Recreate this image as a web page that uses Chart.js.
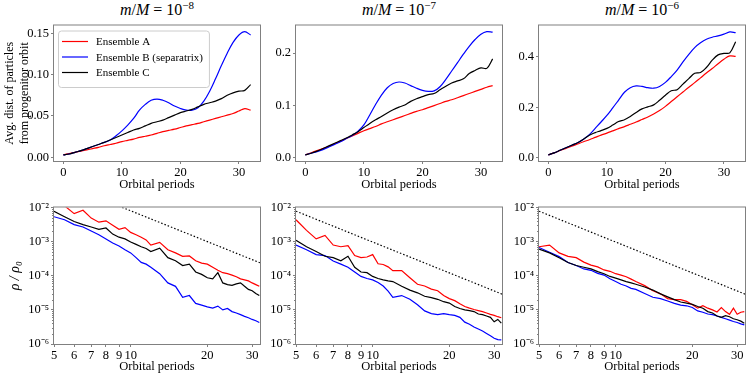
<!DOCTYPE html>
<html>
<head>
<meta charset="utf-8">
<script src="https://cdn.jsdelivr.net/npm/chart.js@4.4.1/dist/chart.umd.min.js"></script>
<style>
  body { margin: 0; background: #fff; width: 747px; height: 374px; position: relative; overflow: hidden;
         font-family: "Liberation Serif", "Times New Roman", serif; }
  canvas { position: absolute; }
  .ttl { position: absolute; top: 0px; width: 206px; text-align: center; font-size: 16px; line-height: 19px; }
  .ttl .sup { font-size: 11px; position: relative; top: -6px; }
</style>
</head>
<body>
<div class="ttl" style="left:54px"><i>m</i>/<i>M</i> = 10<span class="sup">−8</span></div>
<div class="ttl" style="left:296px"><i>m</i>/<i>M</i> = 10<span class="sup">−7</span></div>
<div class="ttl" style="left:539px"><i>m</i>/<i>M</i> = 10<span class="sup">−6</span></div>

<canvas id="t8" width="263" height="176" style="left:0px;top:16px"></canvas>
<canvas id="t7" width="249" height="176" style="left:256px;top:16px"></canvas>
<canvas id="t6" width="249" height="176" style="left:499px;top:16px"></canvas>
<canvas id="b8" width="263" height="176" style="left:0px;top:198px"></canvas>
<canvas id="b7" width="249" height="176" style="left:256px;top:198px"></canvas>
<canvas id="b6" width="249" height="176" style="left:499px;top:198px"></canvas>

<script>
// ---- data ----
const seriesNames = ['Ensemble A', 'Ensemble B (separatrix)', 'Ensemble C'];

// top row: avg. distance from progenitor orbit vs orbital periods
const tTop = [0,1,2,3,4,5,6,7,8,9,10,11,12,13,14,15,16,17,18,19,20,21,22,23,24,25,26,27,28,29,30,31,32];

const topA8 = [0.003,0.0045,0.006,0.0075,0.009,0.0105,0.012,0.014,0.0155,0.017,0.019,0.0205,0.022,0.024,0.0255,0.027,0.029,0.031,0.0325,0.034,0.036,0.038,0.0395,0.041,0.043,0.045,0.047,0.049,0.051,0.053,0.056,0.059,0.057];
const topB8 = [0.003,0.004,0.006,0.008,0.0105,0.013,0.0155,0.018,0.021,0.026,0.032,0.039,0.047,0.057,0.064,0.069,0.0705,0.069,0.066,0.062,0.059,0.057,0.057,0.060,0.068,0.080,0.095,0.111,0.126,0.139,0.148,0.152,0.148];
const topC8 = [0.003,0.004,0.006,0.008,0.0105,0.013,0.0155,0.018,0.021,0.024,0.027,0.030,0.033,0.035,0.038,0.041,0.043,0.045,0.048,0.051,0.054,0.056,0.058,0.061,0.064,0.066,0.068,0.071,0.075,0.078,0.080,0.081,0.088];

const topA7 = [0.006,0.010,0.014,0.018,0.022,0.027,0.032,0.037,0.042,0.047,0.052,0.056,0.060,0.065,0.069,0.073,0.077,0.081,0.085,0.089,0.092,0.096,0.100,0.104,0.108,0.111,0.115,0.119,0.123,0.127,0.131,0.135,0.138];
const topB7 = [0.006,0.009,0.012,0.016,0.021,0.026,0.031,0.037,0.043,0.051,0.063,0.082,0.102,0.120,0.134,0.142,0.145,0.143,0.138,0.133,0.129,0.127,0.128,0.136,0.150,0.166,0.182,0.198,0.213,0.226,0.236,0.241,0.240];
const topC7 = [0.006,0.009,0.013,0.018,0.023,0.028,0.033,0.038,0.044,0.050,0.058,0.066,0.073,0.079,0.086,0.092,0.097,0.101,0.108,0.113,0.117,0.121,0.123,0.130,0.137,0.143,0.147,0.151,0.161,0.167,0.172,0.171,0.189];

const topA6 = [0.012,0.020,0.029,0.037,0.046,0.055,0.064,0.072,0.081,0.090,0.098,0.107,0.116,0.124,0.133,0.142,0.152,0.162,0.174,0.188,0.204,0.223,0.242,0.261,0.280,0.298,0.317,0.336,0.354,0.373,0.391,0.404,0.402];
const topB6 = [0.012,0.020,0.030,0.040,0.050,0.060,0.074,0.092,0.117,0.142,0.168,0.198,0.229,0.260,0.278,0.285,0.283,0.278,0.276,0.283,0.299,0.322,0.348,0.380,0.410,0.437,0.456,0.470,0.478,0.483,0.490,0.499,0.496];
const topC6 = [0.012,0.020,0.030,0.040,0.050,0.060,0.074,0.090,0.100,0.108,0.117,0.130,0.144,0.151,0.164,0.180,0.194,0.202,0.210,0.228,0.248,0.266,0.270,0.292,0.314,0.335,0.338,0.358,0.387,0.408,0.414,0.416,0.460];

// bottom row: density rho/rho0, stored as log10 values
const tBot = [5,5.5,6,6.5,7,7.5,8,8.5,9,9.5,10,10.5,11,11.5,12,13,14,15,16,17,18,19,20,21,22,23,24,25,26,27,28,29,30,31,32];

const rhoA8 = [-1.80,-1.95,-2.18,-2.08,-2.31,-2.43,-2.39,-2.52,-2.64,-2.59,-2.73,-2.80,-2.87,-2.95,-3.10,-3.02,-3.24,-3.33,-3.43,-3.42,-3.56,-3.63,-3.66,-3.75,-3.84,-3.91,-3.94,-3.98,-4.03,-4.09,-4.12,-4.15,-4.21,-4.26,-4.31];
const rhoB8 = [-2.27,-2.36,-2.50,-2.57,-2.69,-2.80,-2.92,-3.04,-3.13,-3.24,-3.33,-3.47,-3.61,-3.66,-3.75,-3.94,-4.21,-4.31,-4.63,-4.58,-4.81,-4.86,-4.91,-4.95,-4.89,-5.00,-4.96,-5.05,-5.09,-5.14,-5.19,-5.23,-5.28,-5.32,-5.37];
const rhoC8 = [-2.11,-2.27,-2.41,-2.50,-2.57,-2.64,-2.60,-2.78,-2.87,-2.92,-3.01,-3.08,-3.15,-3.20,-3.29,-3.19,-3.47,-3.56,-3.70,-3.66,-3.89,-3.96,-4.06,-4.09,-3.91,-4.21,-4.26,-4.28,-4.24,-4.21,-4.31,-4.40,-4.44,-4.52,-4.58];

const rhoA7 = [-2.36,-2.67,-2.92,-2.82,-3.10,-3.15,-3.12,-3.41,-3.47,-3.45,-3.38,-3.65,-3.67,-3.74,-3.85,-3.85,-4.06,-4.25,-4.30,-4.39,-4.44,-4.58,-4.67,-4.73,-4.82,-4.90,-4.95,-4.99,-5.02,-5.05,-5.09,-5.13,-5.16,-5.20,-5.23];
const rhoB7 = [-3.10,-3.24,-3.38,-3.41,-3.57,-3.66,-3.75,-3.89,-4.02,-4.08,-4.12,-4.20,-4.30,-4.45,-4.63,-4.58,-4.69,-4.85,-5.03,-5.11,-5.14,-5.11,-5.14,-5.16,-5.22,-5.36,-5.42,-5.50,-5.56,-5.62,-5.69,-5.76,-5.83,-5.87,-5.88];
const rhoC7 = [-2.96,-3.15,-3.29,-3.43,-3.47,-3.56,-3.43,-3.75,-3.89,-3.91,-4.02,-4.08,-4.12,-4.15,-4.17,-4.31,-4.42,-4.50,-4.60,-4.64,-4.69,-4.76,-4.80,-4.90,-4.96,-5.00,-5.02,-5.05,-5.12,-5.14,-5.18,-5.22,-5.35,-5.28,-5.39];

const rhoA6 = [-3.15,-3.10,-3.33,-3.43,-3.47,-3.60,-3.69,-3.74,-3.83,-3.87,-3.94,-3.98,-4.03,-4.10,-4.17,-4.29,-4.44,-4.53,-4.67,-4.70,-4.70,-4.75,-4.85,-4.95,-4.88,-4.95,-5.00,-5.06,-4.93,-5.05,-5.13,-4.95,-5.13,-5.07,-5.05];
const rhoB6 = [-3.17,-3.31,-3.44,-3.61,-3.70,-3.80,-3.84,-3.93,-3.98,-4.09,-4.17,-4.25,-4.30,-4.37,-4.40,-4.52,-4.63,-4.67,-4.74,-4.81,-4.86,-4.88,-4.93,-5.03,-5.07,-5.12,-5.14,-5.18,-5.22,-5.26,-5.30,-5.34,-5.37,-5.41,-5.44];
const rhoC6 = [-3.22,-3.33,-3.47,-3.61,-3.70,-3.75,-3.80,-3.88,-3.94,-4.02,-4.07,-4.12,-4.17,-4.21,-4.25,-4.33,-4.42,-4.53,-4.62,-4.70,-4.77,-4.80,-4.84,-4.90,-4.95,-5.05,-5.09,-5.18,-5.22,-5.17,-5.20,-5.26,-5.29,-5.33,-5.39];

// dotted power-law guide (end points)
const guideT = [5, 32.2];
const guide8 = [6.4e-2, 2.4e-4];
const guide7 = [7.8e-3, 2.9e-5];
const guide6 = [7.8e-3, 2.9e-5];

// ticks
const topXTicks = [0, 10, 20, 30];
const yTicks8 = [0, 0.05, 0.10, 0.15];
const yLabels8 = ['0.00', '0.05', '0.10', '0.15'];
const yTicks7 = [0, 0.1, 0.2];
const yLabels7 = ['0.0', '0.1', '0.2'];
const yTicks6 = [0, 0.2, 0.4];
const yLabels6 = ['0.0', '0.2', '0.4'];
const botXTicks = [5, 6, 7, 8, 9, 10, 20, 30];
const logYTicks = [1e-6, 1e-5, 1e-4, 1e-3, 1e-2];
const logYLabels = ['10⁻⁶', '10⁻⁵', '10⁻⁴', '10⁻³', '10⁻²'];

// ---- drawing ----
Chart.defaults.font.family = '"Liberation Serif", "Times New Roman", serif';
Chart.defaults.color = '#000';

const FRAME = '#808080';
const COLORS = ['rgb(255,0,0)', 'rgb(0,0,255)', '#000'];

const framePlugin = {
  id: 'frame',
  afterDatasetsDraw(chart) {
    const { ctx, chartArea: a } = chart;
    ctx.save();
    ctx.strokeStyle = FRAME;
    ctx.lineWidth = 1;
    ctx.strokeRect(a.left - 0.5, a.top - 0.5, a.right - a.left + 1, a.bottom - a.top + 1);
    const y = chart.scales.y;
    if (y.type === 'logarithmic') {
      // minor ticks 2..9 x 10^n
      ctx.beginPath();
      for (let n = -6; n < -2; n++) {
        for (let k = 2; k <= 9; k++) {
          const py = Math.round(y.getPixelForValue(k * Math.pow(10, n))) + 0.5;
          ctx.moveTo(a.left - 2, py);
          ctx.lineTo(a.left, py);
        }
      }
      ctx.stroke();
    }
    ctx.restore();
  }
};

const legendPlugin = {
  id: 'boxLegend',
  afterDraw(chart) {
    const { ctx, chartArea: a } = chart;
    const items = chart.data.datasets.filter(d => d.label);
    ctx.save();
    ctx.font = '11px "Liberation Serif", serif';
    const tw = Math.max(...items.map(d => ctx.measureText(d.label).width));
    const x0 = a.left + 4, y0 = a.top + 5, rowH = 15.5;
    const w = 38 + tw + 6, h = items.length * rowH + 10;
    ctx.fillStyle = 'rgba(255,255,255,0.8)';
    ctx.strokeStyle = '#cccccc';
    ctx.lineWidth = 1;
    ctx.beginPath();
    ctx.roundRect(x0 + 0.5, y0 + 0.5, w, h, 3);
    ctx.fill();
    ctx.stroke();
    items.forEach((d, i) => {
      const y = y0 + 11 + i * rowH;
      ctx.strokeStyle = d.borderColor;
      ctx.lineWidth = d.borderWidth;
      ctx.beginPath();
      ctx.moveTo(x0 + 4, y);
      ctx.lineTo(x0 + 30, y);
      ctx.stroke();
      ctx.fillStyle = '#000';
      ctx.textBaseline = 'middle';
      ctx.fillText(d.label, x0 + 38, y + 1);
    });
    ctx.restore();
  }
};

function pts(xs, ys) {
  return xs.map((x, i) => ({ x: x, y: ys[i] }));
}
function logPts(xs, ys) {
  return xs.map((x, i) => ({ x: x, y: Math.pow(10, ys[i]) }));
}

function makePanel(id, cfg) {
  const datasets = cfg.series.map((data, i) => ({
    label: seriesNames[i],
    data: data,
    borderColor: COLORS[i],
    borderWidth: 1.2,
    pointRadius: 0,
    tension: cfg.log ? 0 : 0.35,
    order: 3 - i
  }));
  if (cfg.guide) {
    datasets.push({
      data: cfg.guide,
      borderColor: '#000',
      borderWidth: 1.2,
      borderDash: [1.5, 2],
      pointRadius: 0,
      order: 0
    });
  }
  const tickGrid = { drawOnChartArea: false, drawTicks: true, tickLength: 3, color: FRAME };
  new Chart(document.getElementById(id), {
    type: 'line',
    data: { datasets: datasets },
    options: {
      responsive: false,
      animation: false,
      layout: { padding: { top: 2, right: 3, left: 0, bottom: 0 } },
      plugins: { legend: { display: false }, tooltip: { enabled: false } },
      scales: {
        x: {
          type: cfg.log ? 'logarithmic' : 'linear',
          min: cfg.xMin, max: cfg.xMax,
          afterBuildTicks: s => { s.ticks = cfg.xTicks.map(v => ({ value: v })); },
          afterFit: s => { s.height = cfg.xH; },
          grid: tickGrid,
          border: { display: false },
          ticks: { autoSkip: false, maxRotation: 0, padding: 1, font: { size: 12.5 },
                   callback: (v) => String(v) },
          title: { display: true, text: 'Orbital periods', font: { size: 12.5, lineHeight: 1.2 },
                   padding: { top: 0, bottom: 0 } }
        },
        y: {
          type: cfg.log ? 'logarithmic' : 'linear',
          min: cfg.yMin, max: cfg.yMax,
          afterBuildTicks: s => { s.ticks = cfg.yTicks.map(v => ({ value: v })); },
          afterFit: s => { s.width = cfg.yW; },
          grid: tickGrid,
          border: { display: false },
          ticks: { autoSkip: false, padding: 2, font: { size: 12.5 },
                   callback: (v, i) => cfg.yLabels[i] },
          title: cfg.yTitle ? cfg.yTitle : { display: false }
        }
      }
    },
    plugins: cfg.legend ? [framePlugin, legendPlugin] : [framePlugin]
  });
}

const topBase = { xMin: -1.6, xMax: 33.6, xTicks: topXTicks, xH: 31 };
const botBase = { log: true, xMin: 5, xMax: 32.2, xTicks: botXTicks, xH: 30,
                  yMin: 1e-6, yMax: 1e-2, yTicks: logYTicks, yLabels: logYLabels };

makePanel('t8', Object.assign({}, topBase, {
  series: [pts(tTop, topA8), pts(tTop, topB8), pts(tTop, topC8)],
  yMin: -0.0045, yMax: 0.1595, yTicks: yTicks8, yLabels: yLabels8, yW: 54, legend: true,
  yTitle: { display: true, text: ['Avg. dist. of particles', 'from progenitor orbit'],
            font: { size: 12, lineHeight: 1.25 }, padding: { top: 2, bottom: 0 } }
}));
makePanel('t7', Object.assign({}, topBase, {
  series: [pts(tTop, topA7), pts(tTop, topB7), pts(tTop, topC7)],
  yMin: -0.0058, yMax: 0.2528, yTicks: yTicks7, yLabels: yLabels7, yW: 40
}));
makePanel('t6', Object.assign({}, topBase, {
  series: [pts(tTop, topA6), pts(tTop, topB6), pts(tTop, topC6)],
  yMin: -0.0124, yMax: 0.5244, yTicks: yTicks6, yLabels: yLabels6, yW: 40
}));

makePanel('b8', Object.assign({}, botBase, {
  series: [logPts(tBot, rhoA8), logPts(tBot, rhoB8), logPts(tBot, rhoC8)],
  guide: pts(guideT, guide8), yW: 54,
  yTitle: { display: true, text: 'ρ / ρ₀', font: { size: 14, style: 'italic', lineHeight: 1.2 },
            padding: { top: 7, bottom: 0 } }
}));
makePanel('b7', Object.assign({}, botBase, {
  series: [logPts(tBot, rhoA7), logPts(tBot, rhoB7), logPts(tBot, rhoC7)],
  guide: pts(guideT, guide7), yW: 40
}));
makePanel('b6', Object.assign({}, botBase, {
  series: [logPts(tBot, rhoA6), logPts(tBot, rhoB6), logPts(tBot, rhoC6)],
  guide: pts(guideT, guide6), yW: 40
}));
</script>
</body>
</html>
